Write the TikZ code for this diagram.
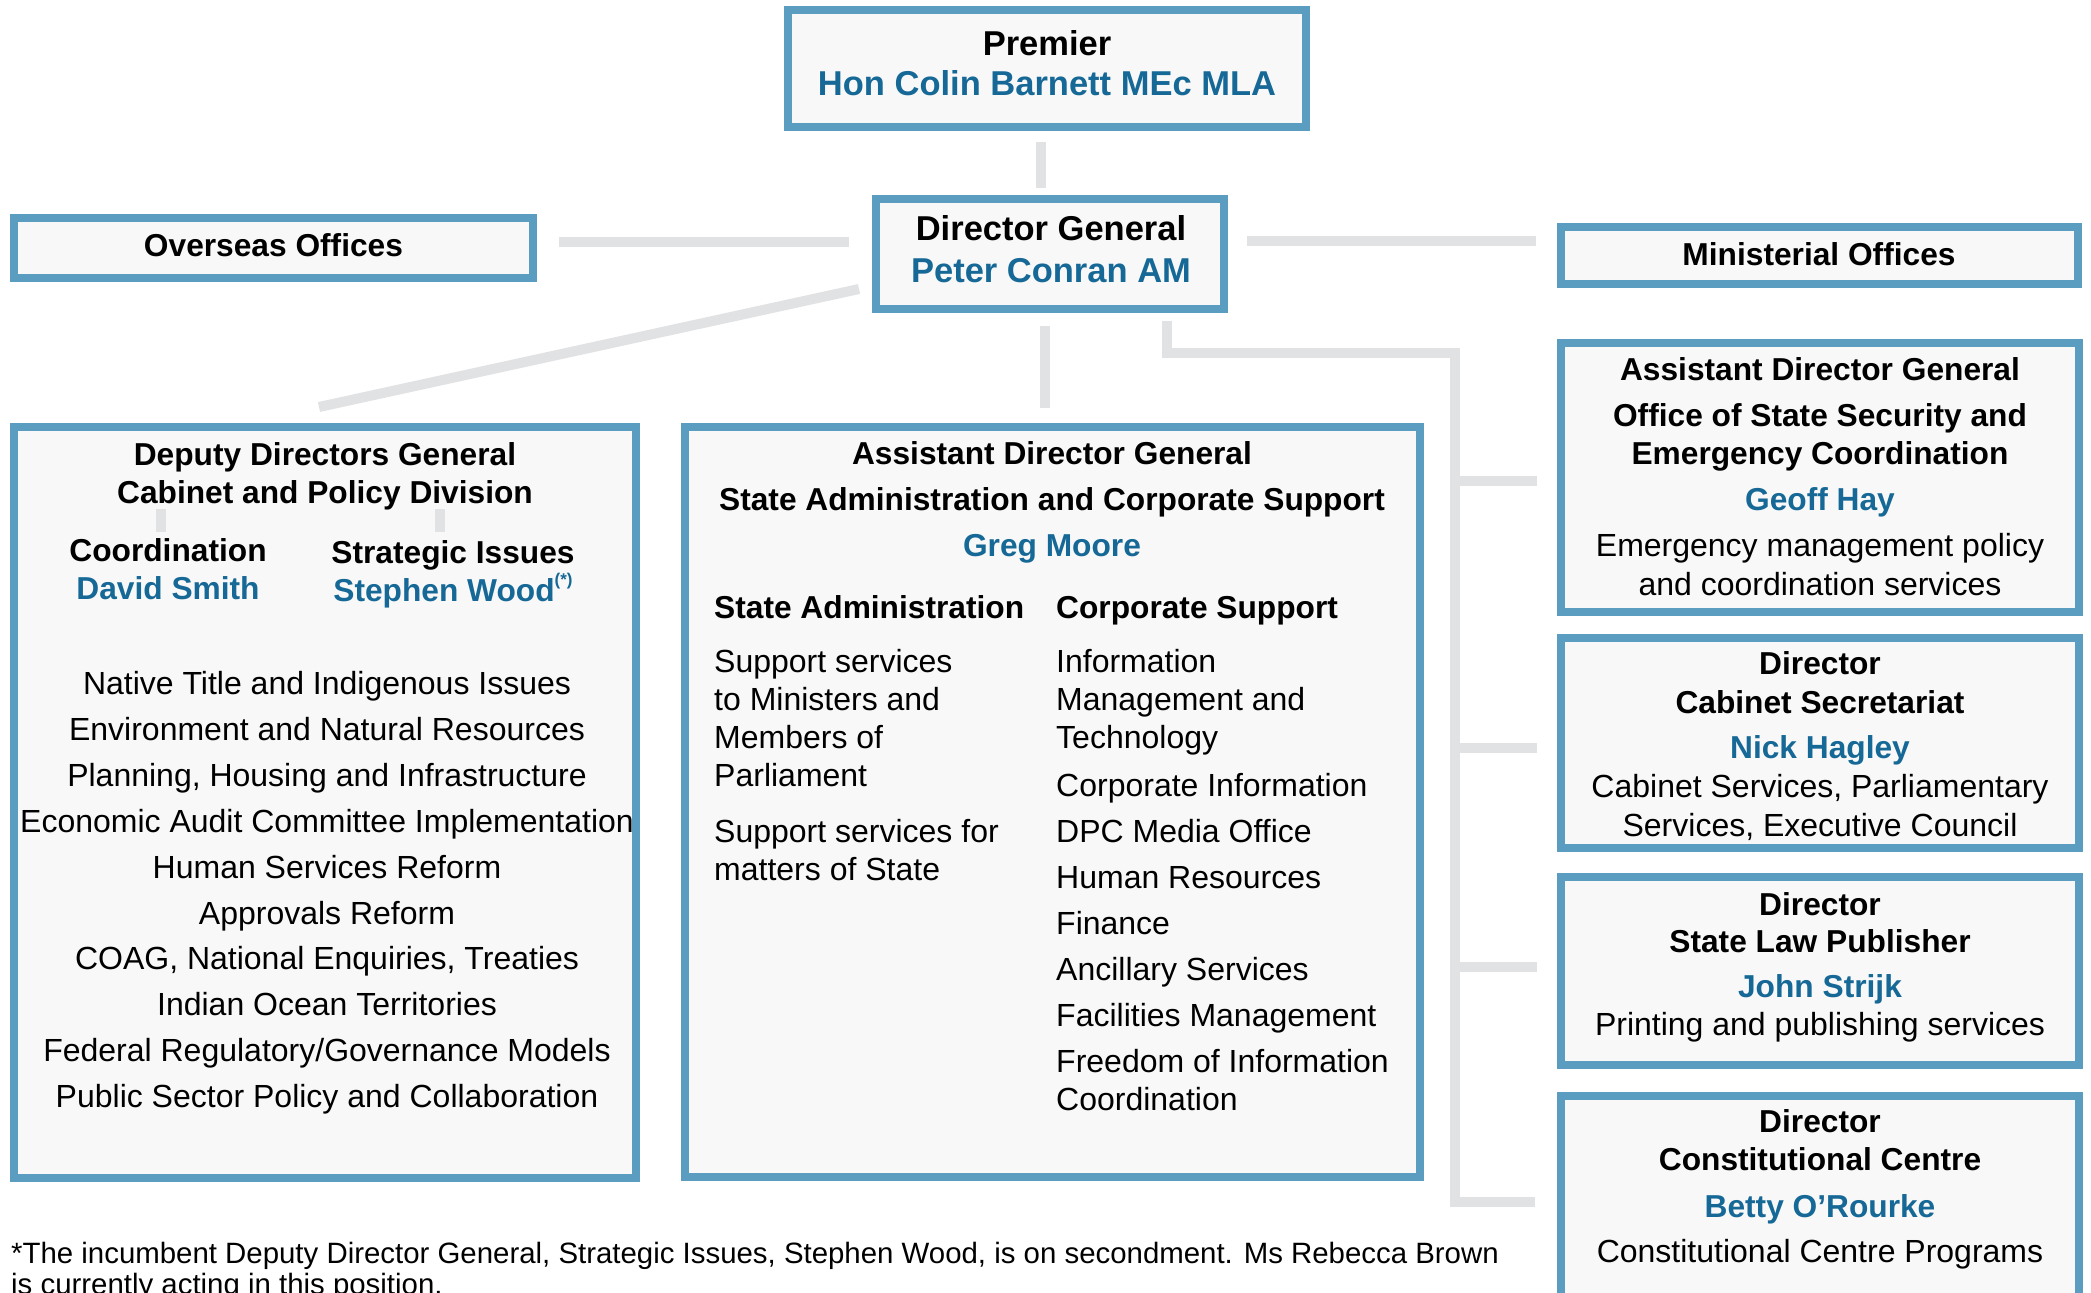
\documentclass[tikz,border=0pt]{standalone}
\usepackage{fontspec}
\setmainfont{Liberation Sans}
\usetikzlibrary{calc}
\definecolor{bord}{RGB}{90,157,193}
\definecolor{boxfill}{RGB}{248,248,248}
\definecolor{connc}{RGB}{225,226,228}
\definecolor{namec}{RGB}{22,104,150}
\begin{document}
\begin{tikzpicture}[x=1pt,y=-1pt,
  box/.style={draw=bord, line width=8pt, fill=boxfill, inner sep=0pt},
  conn/.style={draw=connc, line width=10pt, line join=miter},
  txt/.style={anchor=base, inner sep=0pt, font=\fontsize{32}{38}\selectfont},
  txtl/.style={txt, anchor=base west},
  hd/.style={txt, font=\fontsize{31.7}{38}\selectfont\bfseries},
  hdl/.style={hd, anchor=base west},
  nm/.style={hd, text=namec},
  ttl/.style={txt, font=\fontsize{34.5}{40}\selectfont\bfseries},
  ttln/.style={ttl, text=namec},
  foot/.style={anchor=base west, inner sep=0pt, font=\fontsize{29.4}{34}\selectfont}]
\useasboundingbox (0,0) rectangle (2091,1293);
\clip (0,0) rectangle (2091,1293);
\fill[white] (0,0) rectangle (2091,1293);

% boxes
\node[box, minimum width=518pt, minimum height=117pt] (premier) at (1047,68.5) {};
\node[box, minimum width=348pt, minimum height=110pt] (dg) at (1050,254) {};
\node[box, minimum width=519pt, minimum height=60pt] (overseas) at (273.5,248) {};
\node[box, minimum width=517pt, minimum height=57pt] (ministerial) at (1819.5,255.5) {};
\node[box, minimum width=622pt, minimum height=751pt] (left) at (325,802.5) {};
\node[box, minimum width=735pt, minimum height=750pt] (middle) at (1052.5,802) {};
\node[box, minimum width=518pt, minimum height=269pt] (ossec) at (1820,477.5) {};
\node[box, minimum width=518pt, minimum height=210pt] (cabsec) at (1820,743) {};
\node[box, minimum width=518pt, minimum height=188pt] (law) at (1820,971) {};
\node[box, minimum width=518pt, minimum height=220pt] (const) at (1820,1206) {};

% connectors
\draw[conn] ($(premier.south)+(-6,11)$) -- ($(dg.north)+(-9,-7)$);
\draw[conn] ($(overseas.east)+(22,-6)$) -- ($(dg.west)+(-23,-12)$);
\draw[conn] ($(dg.east)+(19,-13)$) -- ($(ministerial.west)+(-21,-14.5)$);
\draw[conn] ($(dg.west)+(-13,35)$) -- ($(left.north)+(-6,-16)$);
\draw[conn] ($(dg.south)+(-5,13)$) -- ($(middle.north)+(-7.5,-15)$);
\coordinate (trunkTop) at (1455,353);
\coordinate (trunkBot) at (1455,1202);
\draw[conn] ($(dg.south)+(117,8)$) |- (trunkTop) -- (trunkBot) -- ($(const.west)+(-22,-4)$);
\draw[conn] ($(trunkTop)+(0,128)$) -- ($(ossec.west)+(-20,3.5)$);
\draw[conn] ($(trunkTop)+(0,395)$) -- ($(cabsec.west)+(-20,5)$);
\draw[conn] ($(trunkTop)+(0,614)$) -- ($(law.west)+(-20,-4)$);
\coordinate (tickA1) at (161,509);
\coordinate (tickA2) at (161,532);
\coordinate (tickB1) at (440,509);
\coordinate (tickB2) at (440,532);
\draw[conn] (tickA1) -- (tickA2);
\draw[conn] (tickB1) -- (tickB2);

% top texts
\node[ttl] (tPrem) at (1047,55) {Premier};
\node[ttln] (tPremN) at (1047,95) {Hon Colin Barnett MEc MLA};
\node[ttl] (tDG) at (1051,240) {Director General};
\node[ttln] (tDGN) at (1051,282) {Peter Conran AM};
\node[hd] (tOS) at (273.5,256) {Overseas Offices};
\node[hd] (tMin) at (1819,265) {Ministerial Offices};

% left box
\node[hd] (tL1) at (325,465) {Deputy Directors General};
\node[hd] (tL2) at (325,503) {Cabinet and Policy Division};
\node[hd] (tCo) at (168,561) {Coordination};
\node[nm] (tCoN) at (168,599) {David Smith};
\node[hd] (tSI) at (453,563) {Strategic Issues};
\node[nm] (tSIN) at (453,601) {Stephen Wood\raisebox{0.5em}{\fontsize{17}{17}\selectfont(*)}};
\foreach \t [count=\i] in {Native Title and Indigenous Issues,
  Environment and Natural Resources,
  {Planning, Housing and Infrastructure},
  Economic Audit Committee Implementation,
  Human Services Reform,
  Approvals Reform,
  {COAG, National Enquiries, Treaties},
  Indian Ocean Territories,
  Federal Regulatory/Governance Models,
  Public Sector Policy and Collaboration}
  \node[txt] (LL\i) at (327,{694.5+45.9*(\i-1)}) {\t};

% middle box
\node[hd] (tM1) at (1052,464) {Assistant Director General};
\node[hd] (tM2) at (1052,510) {State Administration and Corporate Support};
\node[nm] (tM3) at (1052,556) {Greg Moore};
\node[hdl] (tSA) at (714,618) {State Administration};
\node[hdl] (tCS) at (1056,618) {Corporate Support};
\node[txtl] (sa1) at (714,672) {Support services};
\node[txtl] (sa2) at (714,710) {to Ministers and};
\node[txtl] (sa3) at (714,748) {Members of};
\node[txtl] (sa4) at (714,786) {Parliament};
\node[txtl] (sa5) at (714,842) {Support services for};
\node[txtl] (sa6) at (714,880) {matters of State};
\node[txtl] (cs1) at (1056,672) {Information};
\node[txtl] (cs2) at (1056,710) {Management and};
\node[txtl] (cs3) at (1056,748) {Technology};
\node[txtl] (cs4) at (1056,796) {Corporate Information};
\node[txtl] (cs5) at (1056,842) {DPC Media Office};
\node[txtl] (cs6) at (1056,888) {Human Resources};
\node[txtl] (cs7) at (1056,934) {Finance};
\node[txtl] (cs8) at (1056,980) {Ancillary Services};
\node[txtl] (cs9) at (1056,1026) {Facilities Management};
\node[txtl] (cs10) at (1056,1072) {Freedom of Information};
\node[txtl] (cs11) at (1056,1110) {Coordination};

% right boxes
\node[hd] (o1) at (1820,380) {Assistant Director General};
\node[hd] (o2) at (1820,426) {Office of State Security and};
\node[hd] (o3) at (1820,464) {Emergency Coordination};
\node[nm] (o4) at (1820,510) {Geoff Hay};
\node[txt] (o5) at (1820,556) {Emergency management policy};
\node[txt] (o6) at (1820,595) {and coordination services};

\node[hd] (c1) at (1820,674) {Director};
\node[hd] (c2) at (1820,713) {Cabinet Secretariat};
\node[nm] (c3) at (1820,758) {Nick Hagley};
\node[txt] (c4) at (1820,797) {Cabinet Services, Parliamentary};
\node[txt] (c5) at (1820,836) {Services, Executive Council};

\node[hd] (s1) at (1820,915) {Director};
\node[hd] (s2) at (1820,952) {State Law Publisher};
\node[nm] (s3) at (1820,997) {John Strijk};
\node[txt] (s4) at (1820,1035) {Printing and publishing services};

\node[hd] (k1) at (1820,1132) {Director};
\node[hd] (k2) at (1820,1170) {Constitutional Centre};
\node[nm] (k3) at (1820,1217) {Betty O’Rourke};
\node[txt] (k4) at (1820,1262) {Constitutional Centre Programs};

% footnote
\node[foot] (f1) at (11,1263) {*The incumbent Deputy Director General, Strategic Issues, Stephen Wood, is on secondment. Ms Rebecca Brown};
\node[foot] (f2) at (11,1294) {is currently acting in this position.};
\end{tikzpicture}
\end{document}
